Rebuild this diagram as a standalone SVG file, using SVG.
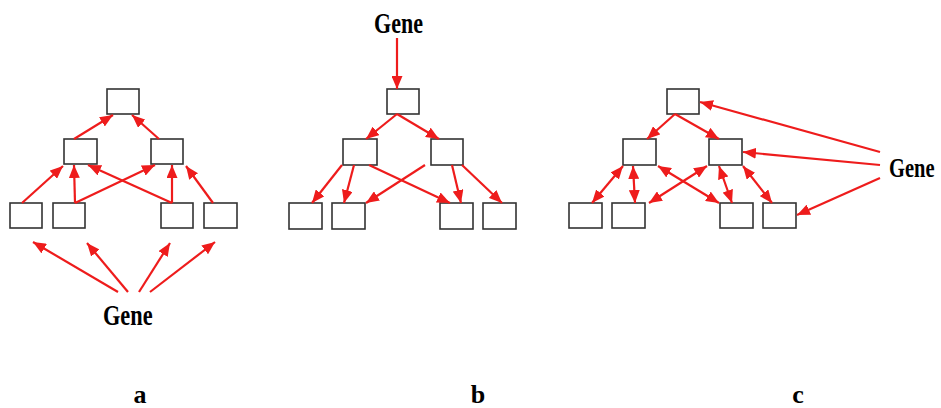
<svg xmlns="http://www.w3.org/2000/svg" width="941" height="408" viewBox="0 0 941 408">
<defs>
<style>
.box{fill:#fff;stroke:#333;stroke-width:1.6}
.ar{stroke:#ee1c1c;stroke-width:2.2;fill:none;marker-end:url(#ah)}
.dbl{marker-start:url(#ah)}
.lbl{font-family:"Liberation Serif",serif;font-weight:bold;fill:#000}
</style>
<marker id="ah" viewBox="0 0 13 11" refX="13" refY="5.5" markerWidth="13" markerHeight="11" markerUnits="userSpaceOnUse" orient="auto-start-reverse">
<path d="M0,0 L13,5.5 L0,11 z" fill="#ee1c1c"/>
</marker>
</defs>
<rect width="941" height="408" fill="#fff"/>

<g id="panel-a">
<rect id="a-top" class="box" x="107" y="89" width="32" height="25"/>
<rect id="a-m1" class="box" x="64" y="139" width="33" height="25"/>
<rect id="a-m2" class="box" x="151" y="139" width="32" height="25"/>
<rect id="a-b1" class="box" x="10" y="203" width="32" height="25"/>
<rect id="a-b2" class="box" x="53" y="203" width="32" height="25"/>
<rect id="a-b3" class="box" x="161" y="203" width="32" height="25"/>
<rect id="a-b4" class="box" x="204" y="203" width="33" height="25"/>
<text id="a-gene" class="lbl" transform="translate(103 325) scale(0.77 1)" font-size="29">Gene</text>
<text id="a-label" class="lbl" x="140" y="403" font-size="26" text-anchor="middle">a</text>
</g>

<g id="panel-b">
<rect id="b-top" class="box" x="387" y="89" width="32" height="25"/>
<rect id="b-m1" class="box" x="343" y="139" width="34" height="26"/>
<rect id="b-m2" class="box" x="431" y="139" width="32" height="26"/>
<rect id="b-b1" class="box" x="289" y="203" width="33" height="26"/>
<rect id="b-b2" class="box" x="332" y="203" width="33" height="26"/>
<rect id="b-b3" class="box" x="440" y="203" width="33" height="26"/>
<rect id="b-b4" class="box" x="483" y="203" width="33" height="26"/>
<text id="b-gene" class="lbl" transform="translate(374 33) scale(0.76 1)" font-size="29">Gene</text>
<text id="b-label" class="lbl" x="478" y="403" font-size="26" text-anchor="middle">b</text>
</g>

<g id="panel-c">
<rect id="c-top" class="box" x="667" y="89" width="32" height="25"/>
<rect id="c-m1" class="box" x="623" y="139" width="33" height="26"/>
<rect id="c-m2" class="box" x="709" y="139" width="33" height="26"/>
<rect id="c-b1" class="box" x="569" y="203" width="33" height="25"/>
<rect id="c-b2" class="box" x="612" y="203" width="33" height="25"/>
<rect id="c-b3" class="box" x="720" y="203" width="33" height="25"/>
<rect id="c-b4" class="box" x="763" y="203" width="33" height="25"/>
<text id="c-gene" class="lbl" transform="translate(889 177) scale(0.76 1)" font-size="27">Gene</text>
<text id="c-label" class="lbl" x="798" y="403" font-size="26" text-anchor="middle">c</text>
</g>

<g id="connectors">
<!-- panel a -->
<line class="ar" x1="74" y1="139" x2="113" y2="115"/>
<line class="ar" x1="159" y1="139" x2="132" y2="115"/>
<line class="ar" x1="22" y1="203" x2="63" y2="166"/>
<line class="ar" x1="75" y1="203" x2="74" y2="165"/>
<line class="ar" x1="75" y1="203" x2="155" y2="165"/>
<line class="ar" x1="172" y1="203" x2="88" y2="165"/>
<line class="ar" x1="172" y1="203" x2="172" y2="165"/>
<line class="ar" x1="213" y1="203" x2="186" y2="166"/>
<line class="ar" x1="118" y1="292" x2="33" y2="242"/>
<line class="ar" x1="128" y1="292" x2="87" y2="243"/>
<line class="ar" x1="139" y1="292" x2="170" y2="243"/>
<line class="ar" x1="150" y1="292" x2="215" y2="242"/>
<!-- panel b -->
<line class="ar" x1="397" y1="38" x2="397" y2="89"/>
<line class="ar" x1="397" y1="114" x2="366" y2="139"/>
<line class="ar" x1="397" y1="114" x2="439" y2="139"/>
<line class="ar" x1="342" y1="165" x2="312" y2="203"/>
<line class="ar" x1="354" y1="165" x2="344" y2="203"/>
<line class="ar" x1="369" y1="165" x2="450" y2="203"/>
<line class="ar" x1="425" y1="165" x2="366" y2="203"/>
<line class="ar" x1="452" y1="165" x2="461" y2="203"/>
<line class="ar" x1="462" y1="165" x2="502" y2="203"/>
<!-- panel c -->
<line class="ar" x1="675" y1="114" x2="647" y2="139"/>
<line class="ar" x1="675" y1="114" x2="719" y2="139"/>
<line class="ar" x1="880" y1="152" x2="700" y2="102"/>
<line class="ar" x1="880" y1="165" x2="743" y2="152"/>
<line class="ar" x1="880" y1="178" x2="797" y2="215"/>
<line class="ar dbl" x1="623" y1="166" x2="592" y2="203"/>
<line class="ar dbl" x1="633" y1="166" x2="635" y2="203"/>
<line class="ar dbl" x1="658" y1="166" x2="719" y2="203"/>
<line class="ar dbl" x1="707" y1="166" x2="649" y2="203"/>
<line class="ar dbl" x1="719" y1="166" x2="732" y2="203"/>
<line class="ar dbl" x1="743" y1="166" x2="772" y2="203"/>
</g>
</svg>
